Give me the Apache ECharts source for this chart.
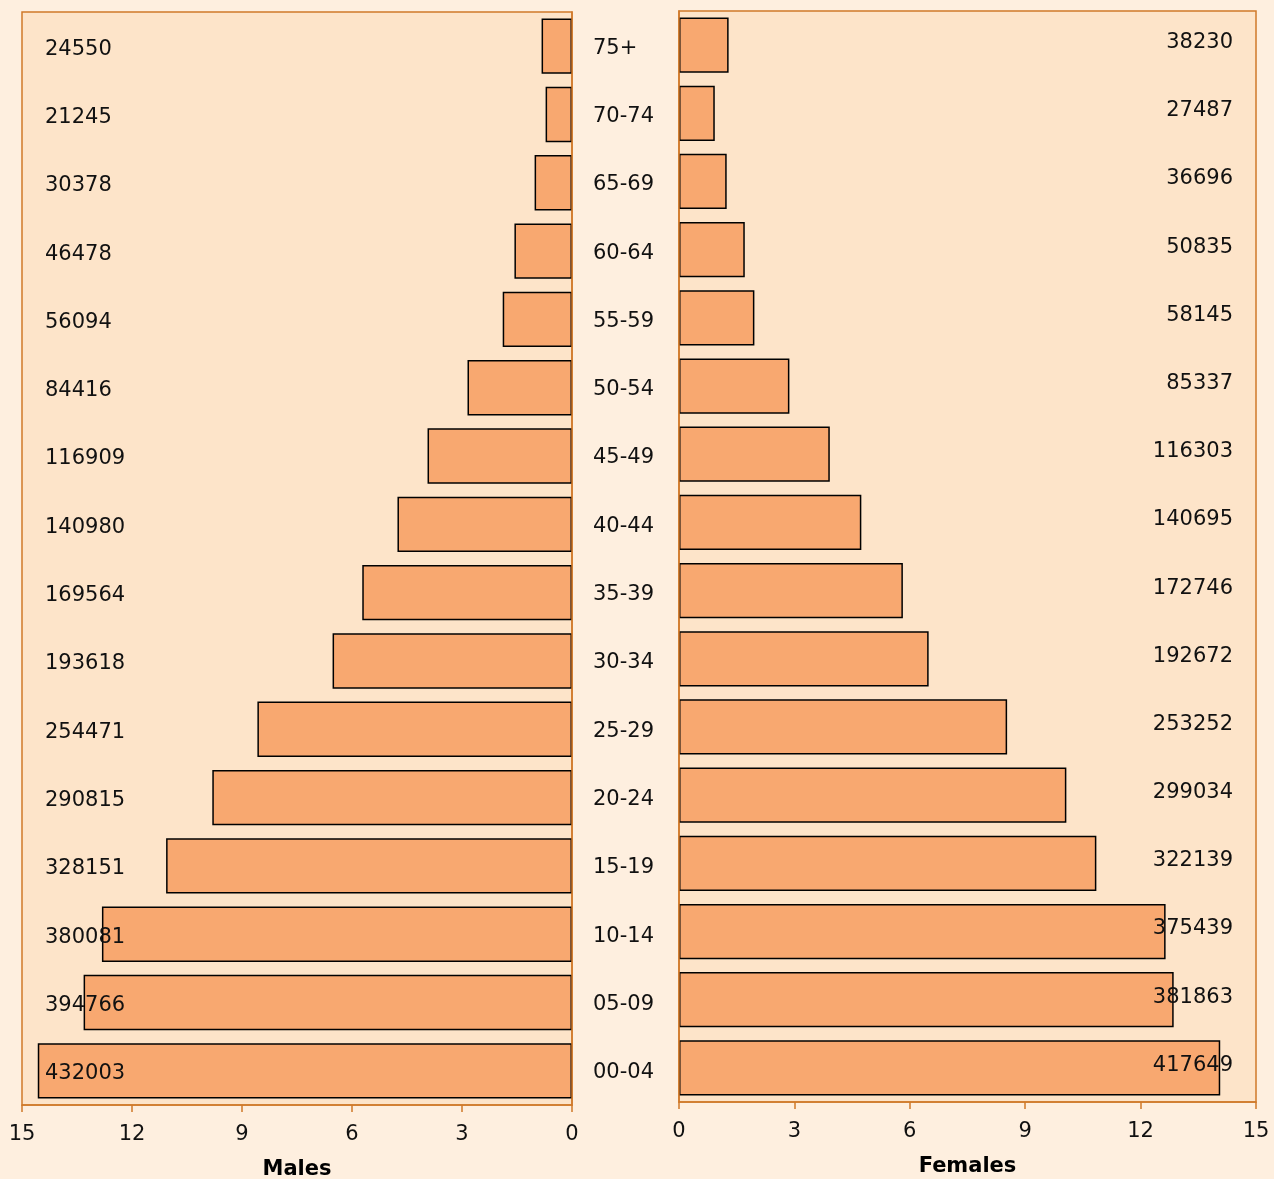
<!DOCTYPE html>
<html>
<head>
<meta charset="utf-8">
<script src="https://cdn.jsdelivr.net/npm/echarts@6/dist/echarts.min.js"></script>
<style>
html,body{margin:0;padding:0;background:#FEEFDF;}
#chart{width:1274px;height:1179px;}
</style>
</head>
<body>
<div id="chart"></div>
<script>
// Age groups, bottom to top
const ageGroups = ['00-04','05-09','10-14','15-19','20-24','25-29','30-34','35-39','40-44','45-49','50-54','55-59','60-64','65-69','70-74','75+'];
// Population counts (labels)
const maleCounts = [432003,394766,380081,328151,290815,254471,193618,169564,140980,116909,84416,56094,46478,30378,21245,24550];
const femaleCounts = [417649,381863,375439,322139,299034,253252,192672,172746,140695,116303,85337,58145,50835,36696,27487,38230];
// Share of each sex total, percent (bar lengths)
const malePercent = [14.57,13.32,12.82,11.07,9.81,8.58,6.53,5.72,4.76,3.94,2.85,1.89,1.57,1.02,0.72,0.83];
const femalePercent = [14.07,12.86,12.65,10.85,10.07,8.53,6.49,5.82,4.74,3.92,2.87,1.96,1.71,1.24,0.93,1.29];
// Axis ticks
const xMin = 0, xMax = 15, xStep = 3;

const FONT = 'DejaVu Sans';
const AXIS = '#D0792A';
const PLOT_BG = '#FDE4C9';
const BAR = '#F8A870';

const chart = echarts.init(document.getElementById('chart'), null, {renderer: 'canvas'});

const xCommon = {
  type: 'value', min: xMin, max: xMax, interval: xStep,
  splitLine: {show: false},
  axisLine: {show: true, onZero: false, lineStyle: {color: AXIS, width: 1.5}},
  axisTick: {show: true, length: 7, lineStyle: {color: AXIS, width: 1.5}},
  axisLabel: {color: '#111', fontFamily: FONT, fontSize: 21, margin: 19},
  nameLocation: 'middle',
  nameTextStyle: {color: '#000', fontFamily: FONT, fontSize: 21, fontWeight: 'bold'}
};

chart.setOption({
  backgroundColor: '#FEEFDF',
  animation: false,
  grid: [
    {left: 22, right: 702, top: 12, bottom: 74, outerBoundsMode: 'none', containLabel: false, show: true, backgroundColor: PLOT_BG, borderColor: AXIS, borderWidth: 1.5},
    {left: 679, right: 18, top: 11, bottom: 77, outerBoundsMode: 'none', containLabel: false, show: true, backgroundColor: PLOT_BG, borderColor: AXIS, borderWidth: 1.5}
  ],
  xAxis: [
    Object.assign({}, xCommon, {gridIndex: 0, inverse: true, name: 'Males', nameGap: 54}),
    Object.assign({}, xCommon, {gridIndex: 1, name: 'Females', nameGap: 54})
  ],
  yAxis: [
    {type: 'category', gridIndex: 0, data: ageGroups, position: 'right', z: 10,
     axisLine: {show: true, lineStyle: {color: AXIS, width: 1.5}},
     axisTick: {show: false},
     axisLabel: {color: '#111', fontFamily: FONT, fontSize: 21, margin: 21, align: 'left', verticalAlign: 'top', lineHeight: 4}},
    {type: 'category', gridIndex: 0, data: maleCounts.map(String), position: 'left', z: 10,
     axisLine: {show: false}, axisTick: {show: false},
     axisLabel: {inside: true, color: '#111', fontFamily: FONT, fontSize: 21, margin: 23, align: 'left', verticalAlign: 'top', lineHeight: 6}},
    {type: 'category', gridIndex: 1, data: ageGroups, position: 'left', z: 10,
     axisLine: {show: true, lineStyle: {color: AXIS, width: 1.5}},
     axisTick: {show: false}, axisLabel: {show: false}},
    {type: 'category', gridIndex: 1, data: femaleCounts.map(String), position: 'right', z: 10,
     axisLine: {show: false}, axisTick: {show: false},
     axisLabel: {inside: true, color: '#111', fontFamily: FONT, fontSize: 21, margin: 23, align: 'right', verticalAlign: 'bottom', lineHeight: 5}}
  ],
  series: [
    {type: 'bar', xAxisIndex: 0, yAxisIndex: 0, data: malePercent, barCategoryGap: '19%',
     itemStyle: {color: BAR, borderColor: '#000', borderWidth: 1.5}, z: 2},
    {type: 'bar', xAxisIndex: 1, yAxisIndex: 2, data: femalePercent, barCategoryGap: '19%',
     itemStyle: {color: BAR, borderColor: '#000', borderWidth: 1.5}, z: 2}
  ]
});
</script>
</body>
</html>
